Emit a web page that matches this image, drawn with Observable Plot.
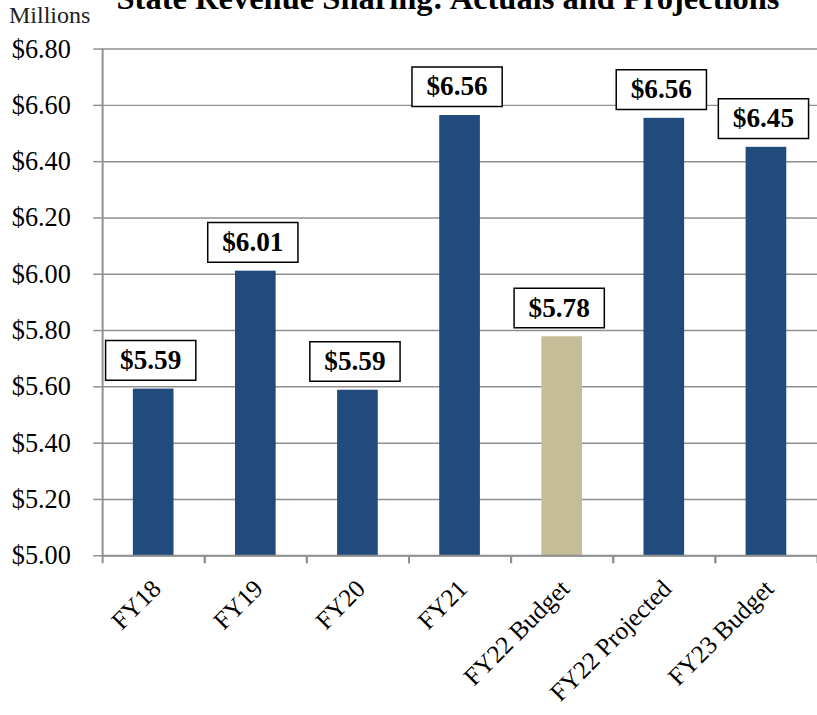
<!DOCTYPE html>
<html>
<head>
<meta charset="utf-8">
<script src="https://cdn.jsdelivr.net/npm/d3@7"></script>
<script src="https://cdn.jsdelivr.net/npm/@observablehq/plot@0.6"></script>
<style>
  html, body { margin: 0; padding: 0; overflow: hidden; background: #fff; }
  #wrap { position: relative; width: 817px; height: 715px; overflow: hidden; font-family: "Liberation Serif", serif; }
  #title { position: absolute; left: 0; width: 896px; top: -18px; text-align: center; font-size: 32.5px; line-height: 32px; font-weight: bold; color: #000; white-space: nowrap; }
  #units { position: absolute; left: 9px; top: 3px; font-size: 24px; line-height: 24px; color: #222; }
  #chart { position: absolute; left: 0; top: 0; }
</style>
</head>
<body>
<div id="wrap">
  <div id="chart"></div>
  <div id="title">State Revenue Sharing: Actuals and Projections</div>
  <div id="units">Millions</div>
</div>
<script>
const categories = ["FY18", "FY19", "FY20", "FY21", "FY22 Budget", "FY22 Projected", "FY23 Budget"];
const values = [5.592, 6.011, 5.588, 6.564, 5.778, 6.554, 6.451];
const valueLabels = ["$5.59", "$6.01", "$5.59", "$6.56", "$5.78", "$6.56", "$6.45"];
const groups = ["Actual", "Actual", "Actual", "Actual", "Budget", "Actual", "Actual"];
const yTicks = [5.0, 5.2, 5.4, 5.6, 5.8, 6.0, 6.2, 6.4, 6.6, 6.8];

const data = categories.map((c, i) => ({category: c, value: values[i], label: valueLabels[i], group: groups[i]}));

const W = 824, H = 715, ML = 103, MR = 0, MT = 49, MB = 155;
const step = (W - ML - MR) / categories.length;
const gridColor = "#8f8f8f";

const boxSymbol = {
  draw(context) { context.rect(-45.5, -20, 91, 40); }
};

const chart = Plot.plot({
  width: W,
  height: H,
  marginLeft: ML,
  marginRight: MR,
  marginTop: MT,
  marginBottom: MB,
  style: {fontFamily: "'Liberation Serif', serif", background: "transparent", color: "#000"},
  x: {type: "band", domain: categories, paddingInner: 0.6, paddingOuter: 0.3, axis: null},
  y: {domain: [5.0, 6.8], axis: null},
  color: {domain: ["Actual", "Budget"], range: ["#214a7d", "#c4bd97"]},
  marks: [
    Plot.gridY(yTicks, {stroke: gridColor, strokeOpacity: 1, strokeWidth: 1.5}),
    Plot.axisY(yTicks, {
      label: null,
      tickFormat: d => "$" + d.toFixed(2),
      tickSize: 9, tickPadding: 23, fontSize: 26.5,
      stroke: gridColor, strokeWidth: 1.5, fill: "#000"
    }),
    Plot.barY(data, {x: "category", y1: 5.0, y2: "value", fill: "group"}),
    Plot.ruleX([categories[0]], {x: d => d, dx: -step / 2, y1: 5.0, y2: 6.8, stroke: gridColor, strokeWidth: 2}),
    Plot.ruleY([5.0], {stroke: gridColor, strokeWidth: 2}),
    Plot.ruleX(categories, {x: d => d, dx: -step / 2, y1: 5.0, y2: 5.0, insetBottom: -8, stroke: gridColor, strokeWidth: 2}),
    Plot.ruleX(categories, {x: d => d, dx: step / 2, y1: 5.0, y2: 5.0, insetBottom: -8, stroke: gridColor, strokeWidth: 2}),
    Plot.dot(data, {x: "category", y: "value", symbol: boxSymbol, fill: "white", stroke: "black", strokeWidth: 1.5, dy: -29, dx: -3}),
    Plot.text(data, {x: "category", y: "value", text: "label", dy: -29, dx: -3, fontSize: 27.5, fontWeight: "bold", fill: "#000"}),
    Plot.text(data, {x: "category", text: "category", frameAnchor: "bottom", dy: 29, dx: 3, rotate: -45, textAnchor: "end", lineAnchor: "middle", fontSize: 25.5, fill: "#000"})
  ]
});
document.getElementById("chart").appendChild(chart);
</script>
</body>
</html>
